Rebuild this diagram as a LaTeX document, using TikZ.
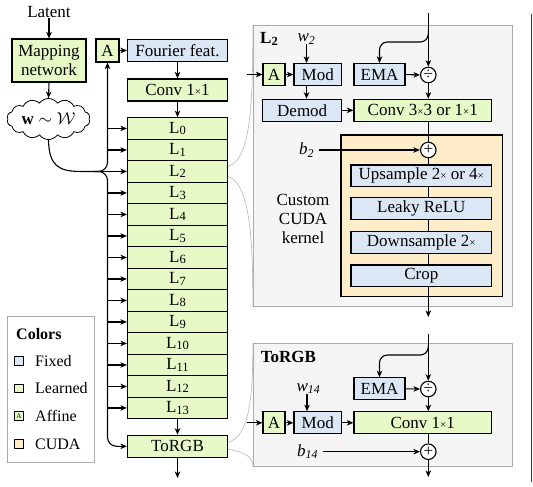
\documentclass[tikz,border=0pt]{standalone}
\usepackage{fontspec}
\setmainfont{Liberation Serif}
\usetikzlibrary{shapes.symbols,arrows.meta,calc}
\definecolor{learn}{RGB}{230,249,198}
\definecolor{fixedc}{RGB}{220,231,245}
\definecolor{cudac}{RGB}{255,236,200}
\definecolor{panelfill}{RGB}{245,245,245}
\definecolor{panelline}{RGB}{170,170,170}
\newcommand{\tms}{{\fontsize{11}{11}\selectfont ×}}
\newcommand{\lsub}[1]{\raisebox{-1.5pt}{\fontsize{12.5}{12.5}\selectfont #1}}
\begin{document}
\begin{tikzpicture}[x=1pt,y=-1pt,
  font=\fontsize{17}{19}\selectfont,
  box/.style={draw, line width=1.1pt, inner sep=0pt, minimum height=22pt},
  lrn/.style={box, fill=learn},
  fix/.style={box, fill=fixedc},
  arr/.style={-{Stealth[length=6.5pt,width=5.5pt,inset=1.8pt]}, line width=1.1pt},
  ln/.style={line width=1.1pt},
  op/.style={circle, draw, fill=white, line width=1.1pt, minimum size=15.5pt, inner sep=0pt},
  panel/.style={draw=panelline, fill=panelfill, line width=1pt, inner sep=0pt},
  lbl/.style={inner sep=0pt},
  zoomln/.style={draw=gray!55, line width=0.6pt},
  sq/.style={draw, line width=0.7pt, minimum size=8.5pt, inner sep=0pt}]
\useasboundingbox (0,0) rectangle (533,487);

% ---------- right panels ----------
\node[panel, minimum width=259pt, minimum height=281pt] (p1) at (382.8,166.2) {};
\node[panel, minimum width=259pt, minimum height=122.7pt] (p2) at (382.8,404.65) {};
\node[draw, fill=cudac, line width=1.1pt, minimum width=161.3pt, minimum height=161.7pt, inner sep=0pt] (cudab) at (421.65,215.85) {};

% ---------- left column ----------
\node[lbl] (latent) at (49,12) {Latent};
\node[lrn, minimum width=74pt, minimum height=43pt, align=center] (map) at (49,60.5) {Mapping\\network};
\node[cloud, draw, line width=0.8pt, cloud puffs=14, cloud puff arc=110, aspect=2.3, minimum width=83pt, minimum height=36pt, inner sep=0pt] (cloud) at (48.5,119) {$\mathbf{w}\sim\mathcal{W}$};
\node[lrn, minimum width=23pt, minimum height=23pt] (A) at (107.5,50.5) {A};
\node[fix, minimum width=100pt] (four) at (177.5,50.5) {Fourier feat.};
\node[lrn, minimum width=100pt] (conv) at (177.5,90) {Conv 1\tms1};
\foreach \i in {0,...,13}{
  \node[lrn, minimum width=100pt, minimum height=21.5pt] (L\i) at (177.5,{128.45+21.5*\i}) {L\lsub{\i}};
}
\node[lrn, minimum width=100pt] (torgb) at (177.5,446.3) {ToRGB};
\coordinate (outL) at (177.5,478);

\draw[arr] (latent.south) -- (map.north);
\draw[arr] (map.south) -- (cloud.north);
\draw[arr] (A.east) -- (four.west);
\draw[arr] (four.south) -- (conv.north);
\draw[arr] (conv.south) -- (L0.north);
\draw[arr] (L13.south) -- (torgb.north);
\draw[arr] (torgb.south) -- (outL);

\coordinate (fork) at (94,171.45);
\draw[ln] (cloud.south) .. controls (49,165) and (58,171.45) .. (80,171.45) -- (fork);
\draw[arr] (fork) -- (L2.west);
\draw[arr, rounded corners=9pt] (fork) -| (A.south);
\draw[arr, rounded corners=9pt] (fork) -| (A.south |- torgb.west) -- (torgb.west);
\foreach \i in {0,1,3,4,5,6,7,8,9,10,11,12,13}{
  \draw[arr] (A.south |- L\i.west) -- (L\i.west);
}

% ---------- legend ----------
\node[draw=panelline, fill=white, line width=1pt, minimum width=87pt, minimum height=145.6pt, inner sep=0pt] (leg) at (50.8,389.5) {};
\node[lbl, anchor=west, font=\bfseries\fontsize{16}{18}\selectfont] (legt) at (16,334) {Colors};
\node[sq, fill=fixedc] (s1) at (19,361) {};
\node[sq, fill=learn] (s2) at (19,388.3) {};
\node[sq, fill=learn, font=\fontsize{7}{7}\selectfont] (s3) at (19,416) {A};
\node[sq, fill=cudac] (s4) at (19,444) {};
\node[lbl, anchor=west, font=\fontsize{16}{18}\selectfont] (t1) at (35,361) {Fixed};
\node[lbl, anchor=west, font=\fontsize{16}{18}\selectfont] (t2) at (35,388.3) {Learned};
\node[lbl, anchor=west, font=\fontsize{16}{18}\selectfont] (t3) at (35,416) {Affine};
\node[lbl, anchor=west, font=\fontsize{16}{18}\selectfont] (t4) at (35,444) {CUDA};

% ---------- zoom lines ----------
\draw[zoomln] ([yshift=5pt]L2.east) .. controls (248,160) and (253.3,120) .. (p1.north west);
\draw[zoomln] ([yshift=-5pt]L2.east) .. controls (248,183) and (253.3,230) .. (p1.south west);
\draw[zoomln] ([yshift=4pt]torgb.east) .. controls (246,437) and (253.3,410) .. (p2.north west);
\draw[zoomln] ([yshift=-3pt]torgb.east) .. controls (246,452) and (253.3,458) .. (p2.south west);

% ---------- L2 panel ----------
\node[lbl, anchor=west, font=\bfseries\fontsize{17}{19}\selectfont] (p1t) at (260,39) {L\lsub{2}};
\node[lbl] (w2) at (306.5,39) {\textit{w}\textsubscript{\textit{2}}};
\node[lrn, minimum width=22pt, minimum height=22pt] (a1) at (274,74.5) {A};
\node[fix, minimum width=47.7pt] (mod1) at (317.8,74.5) {Mod};
\node[fix, minimum width=51pt] (ema1) at (379.5,74.5) {EMA};
\node[op] (div1) at (428.3,75) {÷};
\node[fix, minimum width=79pt] (demod) at (302.2,110.3) {Demod};
\node[lrn, minimum width=137.7pt] (conv33) at (422.8,110.3) {Conv 3\tms3 or 1\tms1};
\node[op] (plus1) at (428.3,150) {+};
\node[lbl] (b2) at (306.7,150) {\textit{b}\textsubscript{\textit{2}}};
\node[fix, minimum width=140.7pt, minimum height=21.7pt] (up) at (421.3,175.8) {Upsample 2\tms{} or 4\tms};
\node[fix, minimum width=140.7pt, minimum height=21.7pt] (leaky) at (421.3,208.5) {Leaky ReLU};
\node[fix, minimum width=140.7pt, minimum height=21.7pt] (down) at (421.3,242.5) {Downsample 2\tms};
\node[fix, minimum width=140.7pt, minimum height=21.7pt] (crop) at (421.3,275.8) {Crop};
\node[lbl, align=center] (ck) at (303,219) {Custom\\CUDA\\kernel};

\coordinate (in1) at (428.3,13);
\coordinate (br1) at (428.3,30);
\coordinate (ain1) at (246.7,74.5);
\coordinate (out1) at (428.3,317);
\draw[arr] (in1) -- (div1.north);
\draw[arr, rounded corners=8pt] (br1) -- (428.3,42) -| (ema1.north);
\draw[arr] (ain1) -- (a1.west);
\draw[arr] (a1.east) -- (mod1.west);
\draw[arr] (ema1.east) -- (div1.west);
\draw[arr] (w2.south) -- (w2.south |- mod1.north);
\draw[arr] (w2.south |- mod1.south) -- (w2.south |- demod.north);
\draw[arr] (div1.south) -- (div1.south |- conv33.north);
\draw[arr] (demod.east) -- (conv33.west);
\draw[ln] (plus1.north |- conv33.south) -- (plus1.north);
\draw[arr] ([xshift=5pt]b2.east) -- (plus1.west);
\draw[ln] (plus1.south) -- (plus1.south |- up.north);
\draw[ln] (plus1.south |- up.south) -- (plus1.south |- leaky.north);
\draw[ln] (plus1.south |- leaky.south) -- (plus1.south |- down.north);
\draw[ln] (plus1.south |- down.south) -- (plus1.south |- crop.north);
\draw[arr] (plus1.south |- crop.south) -- (out1);

% ---------- ToRGB panel ----------
\node[lbl, anchor=west, font=\bfseries\fontsize{17}{19}\selectfont] (p2t) at (260.7,357) {ToRGB};
\node[lbl] (w14) at (308.5,388.5) {\textit{w}\textsubscript{\textit{14}}};
\node[fix, minimum width=51pt] (ema2) at (379.5,388.8) {EMA};
\node[op] (div2) at (428.3,389) {÷};
\node[lrn, minimum width=22pt, minimum height=22pt] (a2) at (274,422.8) {A};
\node[fix, minimum width=47.7pt] (mod2) at (317.8,422.8) {Mod};
\node[lrn, minimum width=137.7pt] (conv2) at (422.8,422.8) {Conv 1\tms1};
\node[op] (plus2) at (428.3,451.7) {+};
\node[lbl] (b14) at (307.5,451.7) {\textit{b}\textsubscript{\textit{14}}};

\coordinate (in2) at (428.3,334);
\coordinate (br2) at (428.3,343);
\coordinate (ain2) at (246.7,422.8);
\coordinate (out2) at (428.3,477);
\draw[arr] (in2) -- (div2.north);
\draw[arr, rounded corners=8pt] (br2) -- (428.3,355) -| (ema2.north);
\draw[arr] (ema2.east) -- (div2.west);
\draw[arr] (div2.south) -- (div2.south |- conv2.north);
\draw[arr] (ain2) -- (a2.west);
\draw[arr] (a2.east) -- (mod2.west);
\draw[arr] (mod2.east) -- (conv2.west);
\draw[arr] ([xshift=-1.5pt]w14.south) -- ([xshift=-1.5pt]w14.south |- mod2.north);
\draw[ln] (plus2.north |- conv2.south) -- (plus2.north);
\draw[arr] ([xshift=5pt]b14.east) -- (plus2.west);
\draw[arr] (plus2.south) -- (out2);

% ---------- right edge line ----------
\draw[line width=1pt, black!80] (531.5,14) -- (531.5,482);
\end{tikzpicture}
\end{document}
